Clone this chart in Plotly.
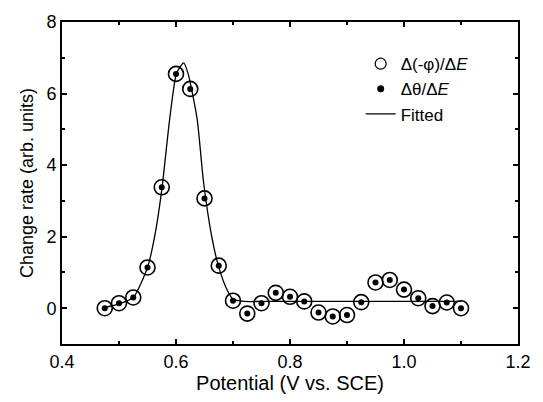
import plotly.graph_objects as go

potential = [0.475, 0.5, 0.525, 0.55, 0.575, 0.6, 0.625, 0.65, 0.675, 0.7, 0.725, 0.75, 0.775,
             0.8, 0.825, 0.85, 0.875, 0.9, 0.925, 0.95, 0.975, 1.0, 1.025, 1.05, 1.075, 1.1]
rate = [0.0, 0.14, 0.3, 1.14, 3.38, 6.55, 6.13, 3.07, 1.19, 0.21, -0.15, 0.14, 0.43,
        0.32, 0.19, -0.12, -0.23, -0.19, 0.17, 0.72, 0.79, 0.52, 0.28, 0.06, 0.16, 0.0]

fit_x = [0.475, 0.5, 0.525, 0.55, 0.5625, 0.575, 0.589, 0.601, 0.6135, 0.621, 0.637, 0.648,
         0.6627, 0.675, 0.69, 0.7, 0.72, 0.75, 1.1]
fit_y = [0.02, 0.12, 0.3, 1.14, 2.0, 3.3, 5.3, 6.57, 6.86, 6.57, 5.3, 3.57,
         2.0, 1.15, 0.5, 0.25, 0.19, 0.19, 0.19]

FONT = "Liberation Sans, Arial, sans-serif"

fig = go.Figure()
fig.add_trace(go.Scatter(
    x=potential, y=rate, mode="markers", showlegend=False,
    marker=dict(symbol="circle-open", size=15, color="black", line=dict(width=1.6)),
))
fig.add_trace(go.Scatter(
    x=potential, y=rate, mode="markers", showlegend=False,
    marker=dict(symbol="circle", size=6, color="black"),
))
fig.add_trace(go.Scatter(
    x=fit_x, y=fit_y, mode="lines", showlegend=False,
    line=dict(color="black", width=1.3, shape="spline", smoothing=0.6),
))
# legend entries
fig.add_trace(go.Scatter(
    x=[None], y=[None], mode="markers", name="Δ(-φ)/Δ<i>E</i>",
    marker=dict(symbol="circle-open", size=11, color="black", line=dict(width=1.2)),
))
fig.add_trace(go.Scatter(
    x=[None], y=[None], mode="markers", name="Δθ/Δ<i>E</i>",
    marker=dict(symbol="circle", size=7, color="black"),
))
fig.add_trace(go.Scatter(
    x=[None], y=[None], mode="lines", name="Fitted",
    line=dict(color="black", width=1.3),
))

axis_common = dict(
    showline=True, linecolor="black", linewidth=2, mirror="allticks",
    ticks="inside", ticklen=5, tickwidth=1.5, tickcolor="black",
    showgrid=False, zeroline=False,
    tickfont=dict(family=FONT, size=18, color="black"),
)

fig.update_xaxes(
    range=[0.4, 1.2], tickvals=[0.4, 0.6, 0.8, 1.0, 1.2],
    ticktext=["0.4", "0.6", "0.8", "1.0", "1.2"],
    minor=dict(dtick=0.1, ticks="inside", ticklen=3, tickcolor="black", tickwidth=1.5, showgrid=False),
    title_text="Potential (V vs. SCE)", title_standoff=4,
    title_font=dict(family=FONT, size=20, color="black"),
    **axis_common,
)
fig.update_yaxes(
    range=[-1, 8], tickvals=[0, 2, 4, 6, 8],
    minor=dict(dtick=1, ticks="inside", ticklen=3, tickcolor="black", tickwidth=1.5, showgrid=False),
    title_text="Change rate (arb. units)", title_standoff=8,
    title_font=dict(family=FONT, size=18, color="black"),
    **axis_common,
)

fig.update_layout(
    width=543, height=402,
    margin=dict(l=62, r=20, t=18, b=54),
    paper_bgcolor="white", plot_bgcolor="white",
    showlegend=True,
    legend=dict(
        x=0.655, y=0.925, xanchor="left", yanchor="top",
        bgcolor="rgba(0,0,0,0)", borderwidth=0,
        font=dict(family=FONT, size=17, color="black"),
        itemwidth=30, tracegroupgap=0,
    ),
)

fig.write_html("out.html")
